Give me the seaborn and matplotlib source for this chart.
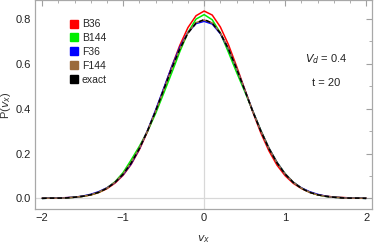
import matplotlib.pyplot as plt
import pandas as pd
import seaborn as sns
from matplotlib.lines import Line2D
from matplotlib.ticker import MultipleLocator

sns.set_theme(style="white")
plt.rcParams["font.family"] = ["Liberation Sans", "DejaVu Sans"]

v = [-2.0, -1.9, -1.8, -1.7, -1.6, -1.5, -1.4, -1.3, -1.2, -1.1, -1.0,
     -0.9, -0.8, -0.7, -0.6, -0.5, -0.4, -0.3, -0.2, -0.1, 0.0,
     0.1, 0.2, 0.3, 0.4, 0.5, 0.6, 0.7, 0.8, 0.9, 1.0,
     1.1, 1.2, 1.3, 1.4, 1.5, 1.6, 1.7, 1.8, 1.9, 2.0]

b36 = [0.001, 0.001, 0.002, 0.003, 0.005, 0.009, 0.015, 0.026, 0.043, 0.068, 0.103,
       0.152, 0.217, 0.297, 0.388, 0.487, 0.588, 0.683, 0.762, 0.815, 0.836,
       0.818, 0.765, 0.686, 0.590, 0.488, 0.386, 0.292, 0.212, 0.148, 0.101,
       0.067, 0.044, 0.027, 0.016, 0.010, 0.006, 0.004, 0.002, 0.001, 0.001]

b144 = [0.000, 0.001, 0.001, 0.002, 0.005, 0.009, 0.016, 0.027, 0.046, 0.074, 0.115,
        0.172, 0.232, 0.298, 0.378, 0.468, 0.560, 0.655, 0.740, 0.800, 0.820,
        0.797, 0.738, 0.652, 0.563, 0.478, 0.390, 0.303, 0.224, 0.160, 0.110,
        0.072, 0.046, 0.028, 0.016, 0.009, 0.005, 0.003, 0.001, 0.001, 0.000]

f36 = [0.000, 0.001, 0.001, 0.003, 0.005, 0.010, 0.018, 0.030, 0.047, 0.071, 0.106,
       0.155, 0.221, 0.302, 0.393, 0.490, 0.587, 0.675, 0.740, 0.780, 0.790,
       0.778, 0.735, 0.667, 0.580, 0.486, 0.390, 0.302, 0.224, 0.160, 0.109,
       0.072, 0.047, 0.030, 0.018, 0.010, 0.005, 0.003, 0.001, 0.001, 0.000]

f144 = [0.000, 0.001, 0.001, 0.002, 0.005, 0.009, 0.016, 0.028, 0.046, 0.072, 0.109,
        0.160, 0.224, 0.301, 0.388, 0.483, 0.579, 0.668, 0.739, 0.784, 0.796,
        0.783, 0.739, 0.669, 0.581, 0.486, 0.390, 0.302, 0.224, 0.159, 0.109,
        0.072, 0.046, 0.028, 0.016, 0.009, 0.005, 0.002, 0.001, 0.001, 0.000]

exact = [0.000, 0.001, 0.001, 0.002, 0.005, 0.009, 0.016, 0.027, 0.045, 0.071, 0.108,
         0.158, 0.222, 0.300, 0.388, 0.484, 0.579, 0.667, 0.737, 0.782, 0.798,
         0.782, 0.737, 0.667, 0.579, 0.484, 0.388, 0.300, 0.222, 0.158, 0.108,
         0.071, 0.045, 0.027, 0.016, 0.009, 0.005, 0.002, 0.001, 0.001, 0.000]

names = ["B36", "B144", "F36", "F144", "exact"]
colors = {"B36": "#ff0000", "B144": "#00ee00", "F36": "#0000ff",
          "F144": "#9b6a3a", "exact": "#000000"}
dashes = {"B36": "", "B144": "", "F36": "", "F144": "", "exact": (3, 2)}

series = [b36, b144, f36, f144, exact]
df = pd.concat([pd.DataFrame({"v": v, "P": vals, "series": n})
                for n, vals in zip(names, series)], ignore_index=True)

fig = plt.figure(figsize=(3.74, 2.44), dpi=100)
ax = fig.add_axes([0.094, 0.143, 0.901, 0.855])

ax.axvline(0, color="#d8d8d8", lw=0.9, zorder=0)
ax.axhline(0, color="#d8d8d8", lw=0.9, zorder=0)

sns.lineplot(data=df, x="v", y="P", hue="series", style="series",
             hue_order=names, style_order=names, palette=colors,
             dashes=dashes, linewidth=1.1, legend=False, ax=ax)

ax.set_xlim(-2.086, 2.074)
ax.set_ylim(-0.048, 0.883)
ax.xaxis.set_major_locator(MultipleLocator(1))
ax.xaxis.set_minor_locator(MultipleLocator(0.2))
ax.yaxis.set_major_locator(MultipleLocator(0.2))
ax.yaxis.set_minor_locator(MultipleLocator(0.1))
ax.yaxis.set_major_formatter(lambda y, pos: f"{y:.1f}")
ax.tick_params(which="both", direction="in", top=True, right=True,
               color="#a0a0a0", labelsize=8, labelcolor="#222222", pad=3)
ax.tick_params(which="major", length=4, width=0.8)
ax.tick_params(which="minor", length=2.3, width=0.6)
for s in ax.spines.values():
    s.set_color("#a8a8a8")
    s.set_linewidth(0.9)

ax.set_xlabel(r"$v_x$", fontsize=8, color="#333333", labelpad=7)
ax.set_ylabel(r"P($v_x$)", fontsize=8, color="#333333", labelpad=2)

handles = [Line2D([], [], marker="s", linestyle="none", markersize=5.5,
                  color=colors[n]) for n in names]
ax.legend(handles, names, loc="upper left", bbox_to_anchor=(0.08, 0.945),
          frameon=False, fontsize=7.5, handlelength=0.8, handletextpad=0.4,
          labelspacing=0.37, borderpad=0.2)

ax.text(1.51, 0.622, r"$V_d$ = 0.4", fontsize=8, ha="center", va="center", color="#222222")
ax.text(1.51, 0.515, "t = 20", fontsize=8, ha="center", va="center", color="#222222")

fig.savefig("out.png", dpi=100)
